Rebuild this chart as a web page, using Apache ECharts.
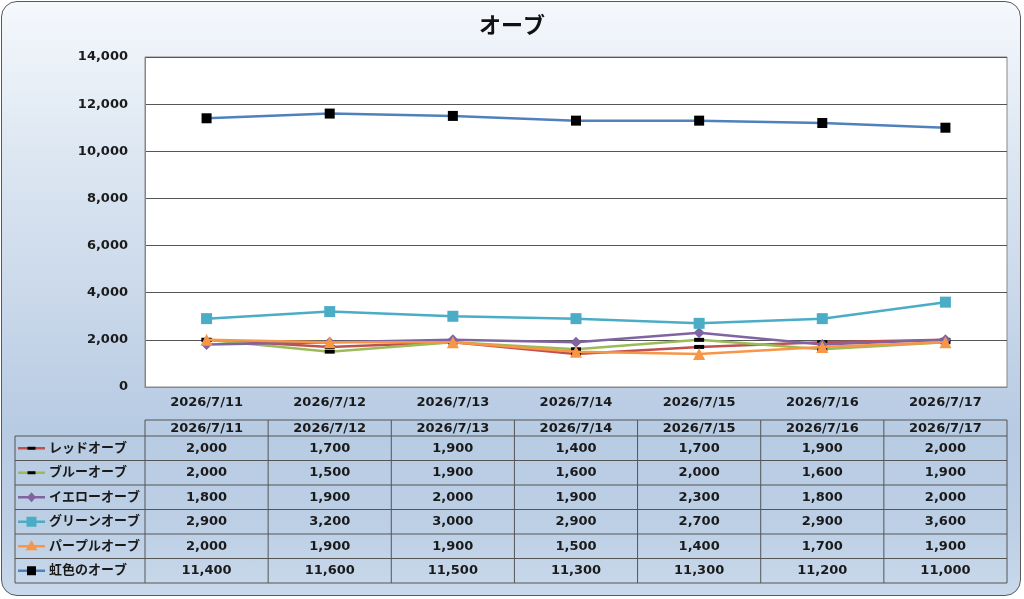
<!DOCTYPE html>
<html>
<head>
<meta charset="utf-8">
<script src="https://cdn.jsdelivr.net/npm/echarts@6/dist/echarts.min.js"></script>
<style>
  html, body { margin: 0; padding: 0; background: #fff; }
  #wrap { position: relative; width: 1024px; height: 599px; overflow: hidden; }
  #box {
    position: absolute; left: 1px; top: 1px; width: 1018px; height: 593px;
    border: 1.5px solid #5a5a5a; border-radius: 16px;
    background: linear-gradient(to bottom, #f5f8fc 0%, #dde7f2 25%, #cad8ea 50%, #b7cbe3 72%, #bccfe5 88%, #cad9eb 100%);
  }
  #chart { position: absolute; left: 0; top: 0; width: 1024px; height: 599px; }
</style>
</head>
<body>
<div id="wrap">
  <div id="box"></div>
  <div id="chart"></div>
</div>
<script>
// データ
const categories = ['2026/7/11', '2026/7/12', '2026/7/13', '2026/7/14', '2026/7/15', '2026/7/16', '2026/7/17'];
const seriesNames = ['レッドオーブ', 'ブルーオーブ', 'イエローオーブ', 'グリーンオーブ', 'パープルオーブ', '虹色のオーブ'];
const redOrb = [2000, 1700, 1900, 1400, 1700, 1900, 2000];
const blueOrb = [2000, 1500, 1900, 1600, 2000, 1600, 1900];
const yellowOrb = [1800, 1900, 2000, 1900, 2300, 1800, 2000];
const greenOrb = [2900, 3200, 3000, 2900, 2700, 2900, 3600];
const purpleOrb = [2000, 1900, 1900, 1500, 1400, 1700, 1900];
const rainbowOrb = [11400, 11600, 11500, 11300, 11300, 11200, 11000];
const yTicks = [0, 2000, 4000, 6000, 8000, 10000, 12000, 14000];

const FONT = '"DejaVu Sans", "Noto Sans CJK JP", sans-serif';
const seriesData = [redOrb, blueOrb, yellowOrb, greenOrb, purpleOrb, rainbowOrb];
const lineColors = ['#c0504d', '#9bbb59', '#8064a2', '#4bacc6', '#f79646', '#4f81bd'];
const markers = [
  { symbol: 'rect', size: [10, 4], color: '#000' },
  { symbol: 'rect', size: [10, 4], color: '#000' },
  { symbol: 'diamond', size: 11, color: '#8064a2' },
  { symbol: 'rect', size: 11, color: '#4bacc6' },
  { symbol: 'triangle', size: 12, color: '#f79646' },
  { symbol: 'rect', size: 10, color: '#000' }
];

const fmt = v => v.toLocaleString('en-US');

// レイアウト
const plotLeft = 145, plotRight = 1007, plotTop = 57, plotBottom = 387;
const colW = (plotRight - plotLeft) / categories.length;
const tblLeft = 15, headTop = 420, headBottom = 436, rowH = 24.5;
const lineStroke = '#555';

const graphics = [];
function hLine(x1, x2, y) {
  graphics.push({ type: 'line', shape: { x1: x1, y1: y, x2: x2, y2: y }, style: { stroke: lineStroke, lineWidth: 1 }, z: 10 });
}
function vLine(x, y1, y2) {
  graphics.push({ type: 'line', shape: { x1: x, y1: y1, x2: x, y2: y2 }, style: { stroke: lineStroke, lineWidth: 1 }, z: 10 });
}
function txt(text, x, y, align) {
  graphics.push({
    type: 'text', z: 11,
    style: { text: text, x: x, y: y, align: align || 'center', verticalAlign: 'middle', fontSize: 13, fontWeight: 'bold', fontFamily: FONT, fill: '#1a1a1a' }
  });
}

const tblBottom = headBottom + rowH * seriesNames.length;
hLine(plotLeft, plotRight, headTop);
for (let r = 0; r <= seriesNames.length; r++) hLine(tblLeft, plotRight, headBottom + r * rowH);
vLine(tblLeft, headBottom, tblBottom);
for (let c = 0; c <= categories.length; c++) vLine(plotLeft + c * colW, headTop, tblBottom);

categories.forEach((cat, c) => txt(cat, plotLeft + (c + 0.5) * colW, (headTop + headBottom) / 2 + 1));

seriesNames.forEach((name, r) => {
  const cy = headBottom + (r + 0.5) * rowH;
  // 凡例アイコン
  graphics.push({ type: 'line', z: 11, shape: { x1: 18, y1: cy, x2: 45, y2: cy }, style: { stroke: lineColors[r], lineWidth: 2.5 } });
  const m = markers[r];
  const mx = 31.5;
  if (m.symbol === 'rect') {
    const w = Array.isArray(m.size) ? m.size[0] - 2 : m.size - 1;
    const h = Array.isArray(m.size) ? m.size[1] - 1 : m.size - 1;
    graphics.push({ type: 'rect', z: 12, shape: { x: mx - w / 2, y: cy - h / 2, width: w, height: h }, style: { fill: m.color } });
  } else if (m.symbol === 'diamond') {
    graphics.push({ type: 'polygon', z: 12, shape: { points: [[mx, cy - 5], [mx + 4.5, cy], [mx, cy + 5], [mx - 4.5, cy]] }, style: { fill: m.color } });
  } else {
    graphics.push({ type: 'polygon', z: 12, shape: { points: [[mx, cy - 6], [mx + 6, cy + 4], [mx - 6, cy + 4]] }, style: { fill: m.color } });
  }
  txt(name, 49, cy, 'left');
  seriesData[r].forEach((v, c) => txt(fmt(v), plotLeft + (c + 0.5) * colW, cy));
});

const chart = echarts.init(document.getElementById('chart'));

const option = {
  backgroundColor: 'transparent',
  animation: false,
  title: {
    text: 'オーブ',
    left: 'center',
    top: 9,
    textStyle: { fontSize: 22, fontWeight: 'bold', color: '#111', fontFamily: '"Noto Sans CJK JP", sans-serif' }
  },
  grid: {
    left: plotLeft, right: 1024 - plotRight, top: plotTop, bottom: 599 - plotBottom,
    show: true, backgroundColor: '#fff', borderColor: '#888', borderWidth: 1
  },
  xAxis: {
    type: 'category',
    data: categories,
    boundaryGap: true,
    axisLine: { lineStyle: { color: '#888' } },
    axisTick: { show: false },
    axisLabel: { fontSize: 13, fontWeight: 'bold', color: '#1a1a1a', fontFamily: FONT, margin: 9, interval: 0 }
  },
  yAxis: {
    type: 'value',
    min: yTicks[0],
    max: yTicks[yTicks.length - 1],
    interval: yTicks[1] - yTicks[0],
    axisLine: { show: true, lineStyle: { color: '#888' } },
    axisTick: { show: false },
    splitLine: { lineStyle: { color: '#555', width: 1 } },
    axisLabel: { fontSize: 13, fontWeight: 'bold', color: '#1a1a1a', fontFamily: FONT, margin: 17, formatter: v => fmt(v) }
  },
  series: seriesNames.map((name, i) => ({
    name: name,
    type: 'line',
    data: seriesData[i],
    symbol: markers[i].symbol,
    symbolSize: markers[i].size,
    showAllSymbol: true,
    lineStyle: { color: lineColors[i], width: 2.5 },
    itemStyle: { color: markers[i].color },
    z: 2 + i
  })),
  graphic: graphics
};

chart.setOption(option);
window.addEventListener('resize', function () { chart.resize(); });
</script>
</body>
</html>
